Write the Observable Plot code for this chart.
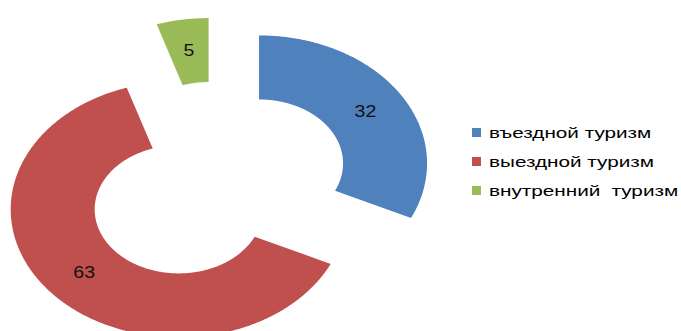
<!DOCTYPE html>
<html>
<head>
<meta charset="utf-8">
<script src="https://cdn.jsdelivr.net/npm/d3@7"></script>
<script src="https://cdn.jsdelivr.net/npm/@observablehq/plot@0.6"></script>
<style>
  html, body { margin: 0; padding: 0; background: #fff; }
  #wrap { position: relative; width: 681px; height: 331px; overflow: hidden; font-family: "Liberation Sans", Arial, sans-serif; }
  #legend { position: absolute; left: 472px; top: 123px; }
  .item { position: relative; height: 29px; white-space: nowrap; }
  .sw { position: absolute; left: 0; top: 5px; width: 9px; height: 9px; }
  .lab { position: absolute; left: 17px; top: 0; font-size: 15px; line-height: 19px; color: #000; display: inline-block; transform: scaleX(1.38); transform-origin: left center; }
  .item:nth-child(3) .lab { word-spacing: 4px; }
</style>
</head>
<body>
<div id="wrap"></div>
<script>
const categories = ["въездной туризм", "выездной туризм", "внутренний туризм"];
const values = [32, 63, 5];
const colors = ["#4F81BD", "#C0504D", "#9BBB59"];

const W = 681, H = 331;
const innerR = 0.5, outerR = 1, explode = 0.3;
const cx = 216, cy = 183.5, rx = 168, ry = 128;

const pie = d3.pie().sort(null).value(d => d.value)(categories.map((c, i) => ({key: c, value: values[i]})));

const pts = [];
const labels = [];
for (const s of pie) {
  const mid = (s.startAngle + s.endAngle) / 2;
  const ox = explode * Math.sin(mid), oy = explode * Math.cos(mid);
  const n = Math.max(8, Math.ceil((s.endAngle - s.startAngle) / 0.01));
  for (let k = 0; k <= n; k++) {
    const a = s.startAngle + (s.endAngle - s.startAngle) * k / n;
    pts.push({key: s.data.key, x: ox + outerR * Math.sin(a), y: oy + outerR * Math.cos(a)});
  }
  for (let k = n; k >= 0; k--) {
    const a = s.startAngle + (s.endAngle - s.startAngle) * k / n;
    pts.push({key: s.data.key, x: ox + innerR * Math.sin(a), y: oy + innerR * Math.cos(a)});
  }
  const lr = (innerR + outerR) / 2;
  labels.push({key: s.data.key, value: s.data.value, x: ox + lr * Math.sin(mid), y: oy + lr * Math.cos(mid)});
}

const chart = Plot.plot({
  width: W, height: H,
  margin: 0,
  x: {domain: [-cx / rx, (W - cx) / rx], axis: null},
  y: {domain: [(cy - H) / ry, cy / ry], axis: null},
  color: {domain: categories, range: colors},
  style: {fontFamily: "'Liberation Sans', Arial, sans-serif", background: "#fff"},
  marks: [
    Plot.line(pts, {x: "x", y: "y", z: "key", fill: "key", stroke: "none", curve: "linear"}),
    Plot.text(labels, {x: "x", y: "y", text: d => String(d.value), fontSize: 16, fill: "#111"})
  ]
});

for (const t of chart.querySelectorAll('g[aria-label="text"] text')) {
  const tr = t.getAttribute("transform");
  if (tr) t.setAttribute("transform", `${tr} scale(1.22,1)`);
}

const wrap = document.getElementById("wrap");
wrap.appendChild(chart);

const legend = document.createElement("div");
legend.id = "legend";
categories.forEach((c, i) => {
  const item = document.createElement("div");
  item.className = "item";
  const sw = document.createElement("span");
  sw.className = "sw";
  sw.style.background = colors[i];
  const lab = document.createElement("span");
  lab.className = "lab";
  lab.textContent = c;
  item.appendChild(sw);
  item.appendChild(lab);
  legend.appendChild(item);
});
wrap.appendChild(legend);
</script>
</body>
</html>
